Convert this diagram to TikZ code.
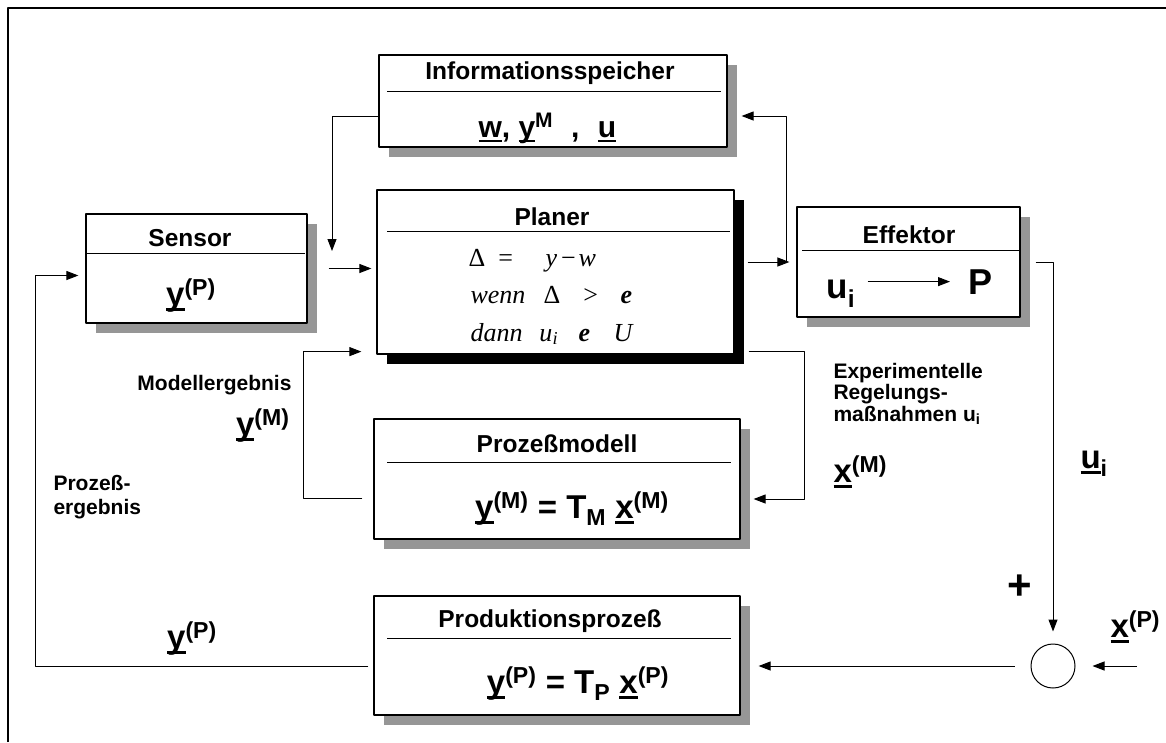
\documentclass[tikz,border=0pt]{standalone}
\usepackage{fontspec}
\setmainfont{Liberation Sans}
\newfontfamily\formelfont{Liberation Serif}
\usetikzlibrary{arrows.meta,shadows,fit}
\definecolor{schatten}{gray}{0.59}
\newcommand\vekt[1]{\setbox0\hbox{#1}\rlap{\rule[-0.17em]{\wd0}{0.07em}}\box0}
\tikzset{
  kasten/.style={draw,line width=1.2pt,fill=white,inner sep=0pt,
    drop shadow={shadow xshift=10pt,shadow yshift=-10pt,fill=#1,opacity=1}},
  kasten/.default=schatten,
  titel/.style={font=\bfseries\fontsize{24.5}{28}\selectfont,inner sep=0pt,anchor=base},
  inhalt/.style={font=\bfseries\fontsize{33}{36}\selectfont,inner sep=0pt,anchor=base},
  marke/.style={font=\bfseries\fontsize{21}{21.5}\selectfont,inner sep=0pt,align=left},
  formel/.style={font=\formelfont\itshape\fontsize{26}{28}\selectfont,inner sep=0pt,anchor=base west}
}
\begin{document}
\begin{tikzpicture}[x=1pt,y=-1pt,>={Triangle[length=12pt,width=9pt]},line width=1pt,line join=round]
	\useasboundingbox (0,0) rectangle (1166,742);
	\draw[line width=1.5pt] (8,742)--(8,8)--(1166,8);
	% Kaesten
	\node[kasten,fit={(379,55) (727,147)}] (speicher) {};
	\node[titel] (speichertitel) at (550,79) {Informationsspeicher};
	\draw (387,91)--(721,91);
	\node[inhalt,anchor=base west,font=\bfseries\fontsize{30}{34}\selectfont] (speicherinhalt) at (478,137) {\vekt{w}, \vekt{y}\textsuperscript{M}\hspace{18pt}, \hspace{10pt}\vekt{u}};
	\node[kasten=black,fit={(377,190) (734,354)}] (planer) {};
	\node[titel] (planertitel) at (552,225) {Planer};
	\draw (387,231)--(730,231);
	\node[formel] (zeile1) at (468,266) {\makebox[30pt][l]{\upshape Δ}\makebox[47pt][l]{\upshape =}y\hspace{4pt}{\upshape −}\hspace{3pt}w};
	\node[formel] (zeile2) at (470,303) {\makebox[73pt][l]{wenn}\makebox[40pt][l]{\upshape Δ}\makebox[37pt][l]{\upshape >}\textbf{e}};
	\node[formel] (zeile3) at (470,341) {\makebox[69pt][l]{dann}\makebox[39pt][l]{u\textsubscript{i}}\makebox[35pt][l]{\textbf{e}}U};
	\node[kasten,fit={(86,214) (307,323)}] (sensor) {};
	\node[titel] (sensortitel) at (190,246) {Sensor};
	\draw (86,253)--(305,253);
	\node[inhalt] (sensorinhalt) at (191,305) {\vekt{y}\textsuperscript{(P)}};
	\node[kasten,fit={(797,207) (1020,317)}] (effektor) {};
	\node[titel] (effektortitel) at (909,243) {Effektor};
	\draw (802,250)--(1020,250);
	\node[inhalt,anchor=base west,font=\bfseries\fontsize{35}{38}\selectfont] (ui) at (826,298) {u\textsubscript{i}};
	\node[inhalt,anchor=base west,font=\bfseries\fontsize{36}{40}\selectfont] (pe) at (968,294) {P};
	\draw[->,shorten <=12pt,shorten >=18pt] (ui.east |- pe) -- (pe);
	\node[kasten,fit={(374,419) (740,539)}] (modell) {};
	\node[titel] (modelltitel) at (557,452) {Prozeßmodell};
	\draw (387,462)--(731,462);
	\node[inhalt] (modellinhalt) at (572,518) {\vekt{y}\textsuperscript{(M)} = T\textsubscript{M} \vekt{x}\textsuperscript{(M)}};
	\node[kasten,fit={(374,596) (740,715)}] (prozess) {};
	\node[titel] (prozesstitel) at (550,627) {Produktionsprozeß};
	\draw (387,638)--(731,638);
	\node[inhalt] (prozessinhalt) at (578,693) {\vekt{y}\textsuperscript{(P)} = T\textsubscript{P} \vekt{x}\textsuperscript{(P)}};
	\node[draw,circle,minimum size=44pt,inner sep=0pt] (kreis) at (1053,666) {};
	% Beschriftungen
	\node[marke,anchor=base east] (modelltext) at (292,390) {Modellergebnis};
	\node[inhalt,anchor=base east] (ym) at (290,435) {\vekt{y}\textsuperscript{(M)}};
	\node[marke,anchor=base west,font=\bfseries\fontsize{21}{24}\selectfont] (prozesstext) at (53,514) {Prozeß-\\ergebnis};
	\node[inhalt] (yp) at (192,648) {\vekt{y}\textsuperscript{(P)}};
	\node[marke,anchor=base west] (regeltext) at (833,421) {Experimentelle\\Regelungs-\\maßnahmen u\textsubscript{i}};
	\node[inhalt,anchor=base west] (xm) at (833,482) {\vekt{x}\textsuperscript{(M)}};
	\node[inhalt,anchor=base west] (uimarke) at (1080,468) {\vekt{u}\textsubscript{i}};
	\node[inhalt,anchor=center,font=\bfseries\fontsize{42}{44}\selectfont] (plus) at (1020,587) {+};
	\node[inhalt,anchor=base west] (xp) at (1110,637) {\vekt{x}\textsuperscript{(P)}};
	% Verbindungen
	\coordinate (k1) at (332,251);
	\coordinate (abzweig) at (786,262);
	\coordinate (xpein) at (1137,666);
	\draw[->] ([yshift=-15pt]speicher.west) -| (k1);
	\draw[->,shorten <=21pt,shorten >=5pt] (sensor.east) -- (sensor.east -| planer.west);
	\draw[->,shorten <=13pt,shorten >=7pt] (planer.east |- effektor.west) -- (effektor.west);
	\draw[->,shorten >=14pt] (abzweig) |- ([yshift=-15pt]speicher.east);
	\draw[->,shorten <=15pt,shorten >=12pt] (effektor.east) -| (kreis.north);
	\draw[->,shorten >=17pt] (xpein) -- (kreis.east);
	\draw[->,shorten <=16pt,shorten >=18pt] (kreis.west) -- (kreis.west -| prozess.east);
	\draw[->,shorten <=5pt,shorten >=7pt] (kreis.west -| prozess.west) -- ++(-338,0) |- ([yshift=-7pt]sensor.west);
	\draw[->,shorten <=14pt,shorten >=13pt] ([yshift=3pt]planer.south east) -- ++(70,0) |- ([yshift=-20pt]modell.east);
	\draw[->,shorten <=11pt,shorten >=15pt] ([yshift=-19pt]modell.west) -- ++(-70,0) |- ([yshift=3pt]planer.south west);
\end{tikzpicture}
\end{document}
